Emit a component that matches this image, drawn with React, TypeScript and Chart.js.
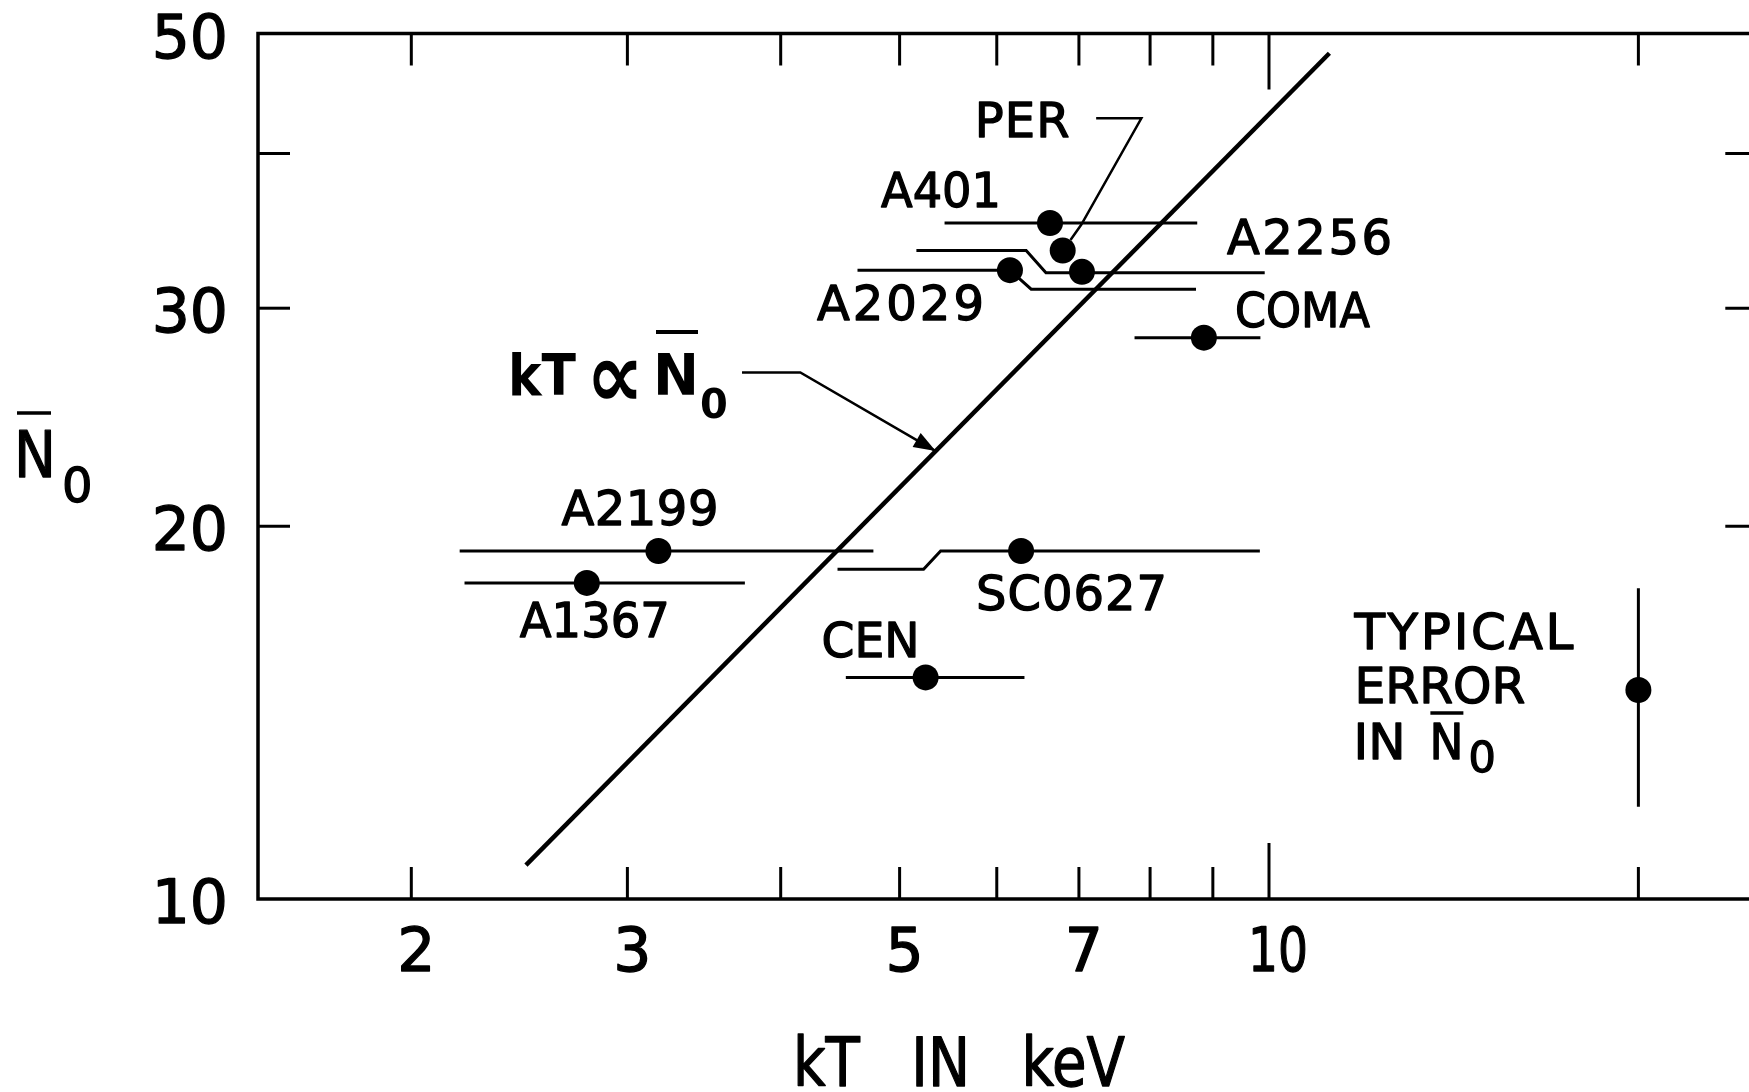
import React, { useEffect, useRef } from 'react';
import { Chart, registerables } from 'chart.js';

Chart.register(...registerables);

// ---------------- data ----------------
const clusterNames = ['A401', 'PER', 'A2256', 'A2029', 'COMA', 'A2199', 'A1367', 'SC0627', 'CEN'];
const clusterKT = [6.63, 6.79, 7.04, 6.15, 8.85, 3.18, 2.78, 6.28, 5.25];
const clusterN0 = [35.15, 33.4, 32.1, 32.2, 28.4, 19.1, 18.0, 19.1, 15.1];

// horizontal kT error bars, drawn (with offsets as in the original) as polylines [kT, N0]
const errA401 = [[5.44, 35.15], [8.74, 35.15]];
const errPerA2256 = [[5.16, 33.4], [6.34, 33.4], [6.58, 32.05], [9.92, 32.05]];
const errA2029 = [[4.62, 32.2], [6.15, 32.2], [6.4, 31.08], [8.72, 31.08]];
const errComa = [[7.77, 28.4], [9.84, 28.4]];
const errA2199 = [[2.19, 19.1], [4.76, 19.1]];
const errA1367 = [[2.21, 18.0], [3.74, 18.0]];
const errSC0627 = [[4.45, 18.46], [5.23, 18.46], [5.4, 19.1], [9.83, 19.1]];
const errCen = [[4.52, 15.1], [6.32, 15.1]];

// typical error in N0
const typicalKT = 20;
const typicalN0 = 14.75;
const typicalN0Range = [11.87, 17.82];

// kT proportional to N0 line
const fitKT = [2.48, 11.2];
const fitN0 = [10.65, 48.2];

// leader lines
const perLeader = [[7.23, 42.7], [7.87, 42.7], [7.03, 35.03], [6.89, 34.06]];
const fitLeader = [[3.72, 26.62], [4.15, 26.62], [5.35, 23.0]];

// axes
const xMin = 1.5;
const xMax = 25;
const yMin = 10;
const yMax = 50;
const xTickMarks = [2, 3, 4, 5, 6, 7, 8, 9, 10, 20];
const xTickLabels = [2, 3, 5, 7, 10];
const yTickMarks = [20, 30, 40];
const yTickLabels = [10, 20, 30, 50];
const xTitle = 'kT IN keV';

// ---------------- layout / style ----------------
const CANVAS_W = 1775;
const CANVAS_H = 1092;
const FONT = '"DejaVu Sans", "Liberation Sans", sans-serif';
const TEXT_STROKE = 1.3;

// label offsets (left, baseline) from each cluster dot, in px, plus ink width
const labelStyle: Record<string, { dx: number; dy: number; w: number }> = {
  PER: { dx: -88, dy: -113, w: 95 },
  A401: { dx: -169, dy: -16, w: 120 },
  A2256: { dx: 145, dy: -18, w: 165 },
  A2029: { dx: -193, dy: 50, w: 167 },
  COMA: { dx: 31, dy: -11, w: 135 },
  A2199: { dx: -97, dy: -26, w: 157 },
  A1367: { dx: -67, dy: 54, w: 150 },
  SC0627: { dx: -45, dy: 59, w: 191 },
  CEN: { dx: -104, dy: -20, w: 98 },
};

const toPts = (arr: number[][]) => arr.map(([x, y]) => ({ x, y }));

function paintText(ctx: CanvasRenderingContext2D, text: string, x: number, y: number, maxW?: number, stroke = TEXT_STROKE) {
  ctx.lineWidth = stroke;
  ctx.lineJoin = 'round';
  if (maxW) {
    ctx.fillText(text, x, y, maxW);
    if (stroke > 0) ctx.strokeText(text, x, y, maxW);
  } else {
    ctx.fillText(text, x, y);
    if (stroke > 0) ctx.strokeText(text, x, y);
  }
}

function drawFitted(
  ctx: CanvasRenderingContext2D,
  text: string,
  x: number,
  y: number,
  size: number,
  width: number,
  weight = 'normal',
) {
  ctx.font = `${weight} ${size}px ${FONT}`;
  (ctx as any).letterSpacing = '0px';
  ctx.textAlign = 'left';
  const stroke = weight === 'bold' ? 0 : TEXT_STROKE;
  const w0 = ctx.measureText(text).width;
  if (width && w0 < width && text.length > 1) {
    const ls = (width - w0) / (text.length - 1);
    (ctx as any).letterSpacing = `${ls}px`;
    paintText(ctx, text, x, y, undefined, stroke);
    (ctx as any).letterSpacing = '0px';
  } else if (width) {
    paintText(ctx, text, x, y, width, stroke);
  } else {
    paintText(ctx, text, x, y, undefined, stroke);
  }
}

function seg(ctx: CanvasRenderingContext2D, x1: number, y1: number, x2: number, y2: number) {
  ctx.beginPath();
  ctx.moveTo(x1, y1);
  ctx.lineTo(x2, y2);
  ctx.stroke();
}

function drawNBar0(
  ctx: CanvasRenderingContext2D,
  x: number,
  baseline: number,
  nSize: number,
  nWidth: number,
  subSize: number,
  subDx: number,
  subDrop: number,
  barY: number,
  barX1: number,
  barX2: number,
  weight = 'normal',
  barW = 3.5,
) {
  drawFitted(ctx, 'N', x, baseline, nSize, nWidth, weight);
  ctx.lineWidth = barW;
  ctx.lineCap = 'butt';
  seg(ctx, barX1, barY, barX2, barY);
  drawFitted(ctx, '0', x + subDx, baseline + subDrop, subSize, 0, weight);
}

const decorPlugin = {
  id: 'decor',
  beforeDatasetsDraw(chart: any) {
    const { ctx, chartArea: a, scales } = chart;
    const xs = scales.x;
    const ys = scales.y;
    ctx.save();
    ctx.strokeStyle = '#000';
    ctx.lineCap = 'butt';
    ctx.lineWidth = 3.5;
    ctx.strokeRect(a.left, a.top, a.right - a.left, a.bottom - a.top);
    ctx.lineWidth = 3;
    for (const v of xTickMarks) {
      const px = xs.getPixelForValue(v);
      const len = v === 10 ? 56 : 32;
      seg(ctx, px, a.bottom, px, a.bottom - len);
      seg(ctx, px, a.top, px, a.top + len);
    }
    for (const v of yTickMarks) {
      const py = ys.getPixelForValue(v);
      seg(ctx, a.left, py, a.left + 32, py);
      seg(ctx, a.right, py, a.right - 32, py);
    }
    ctx.restore();
  },
  afterDatasetsDraw(chart: any) {
    const { ctx, chartArea: a, scales } = chart;
    const xs = scales.x;
    const ys = scales.y;
    ctx.save();
    ctx.fillStyle = '#000';
    ctx.strokeStyle = '#000';
    ctx.textBaseline = 'alphabetic';

    // tick labels
    ctx.font = `60px ${FONT}`;
    ctx.textAlign = 'center';
    for (const v of xTickLabels) {
      const px = xs.getPixelForValue(v) + 5;
      if (v === 10) paintText(ctx, String(v), px + 4, a.bottom + 72, 60);
      else paintText(ctx, String(v), px, a.bottom + 72);
    }
    ctx.textAlign = 'right';
    for (const v of yTickLabels) {
      const py = ys.getPixelForValue(v);
      paintText(ctx, String(v), a.left - 30, py + 24);
    }

    // x axis title
    ctx.font = `67px ${FONT}`;
    ctx.textAlign = 'left';
    (ctx as any).wordSpacing = '40px';
    paintText(ctx, xTitle, 793, 1086, 332);
    (ctx as any).wordSpacing = '0px';

    // y axis title  N-bar 0
    drawNBar0(ctx, 14, 477, 64, 42, 48, 48, 25, 413, 17, 51);

    // cluster labels
    clusterNames.forEach((name, i) => {
      const st = labelStyle[name];
      const px = xs.getPixelForValue(clusterKT[i]);
      const py = ys.getPixelForValue(clusterN0[i]);
      drawFitted(ctx, name, px + st.dx, py + st.dy, 48, st.w);
    });

    // typical error text
    const tx = xs.getPixelForValue(typicalKT);
    const ty = ys.getPixelForValue(typicalN0);
    drawFitted(ctx, 'TYPICAL', tx - 284, ty - 41, 50, 219);
    drawFitted(ctx, 'ERROR', tx - 284, ty + 13, 50, 171);
    drawFitted(ctx, 'IN', tx - 285, ty + 69, 50, 0);
    drawNBar0(ctx, tx - 209, ty + 69, 50, 34, 43, 39, 13, ty + 23, tx - 208, tx - 175);

    // kT ∝ N0 annotation
    drawFitted(ctx, 'kT', 508, 395, 57, 68, 'bold');
    drawFitted(ctx, '\u221D', 586, 407, 92, 58, 'bold');
    drawNBar0(ctx, 653, 395, 57, 46, 40, 47, 23, 332, 656, 698, 'bold', 4);

    // arrowhead at end of fit leader
    const n = fitLeader.length;
    const x2 = xs.getPixelForValue(fitLeader[n - 1][0]);
    const y2 = ys.getPixelForValue(fitLeader[n - 1][1]);
    const x1 = xs.getPixelForValue(fitLeader[n - 2][0]);
    const y1 = ys.getPixelForValue(fitLeader[n - 2][1]);
    const ang = Math.atan2(y2 - y1, x2 - x1);
    const L = 22;
    const W = 8;
    ctx.beginPath();
    ctx.moveTo(x2, y2);
    ctx.lineTo(x2 - L * Math.cos(ang) + W * Math.sin(ang), y2 - L * Math.sin(ang) - W * Math.cos(ang));
    ctx.lineTo(x2 - L * Math.cos(ang) - W * Math.sin(ang), y2 - L * Math.sin(ang) + W * Math.cos(ang));
    ctx.closePath();
    ctx.fill();
    ctx.restore();
  },
};

export default function App() {
  const ref = useRef<HTMLCanvasElement | null>(null);

  useEffect(() => {
    if (!ref.current) return;
    document.body.style.margin = '0';
    const lineDs = (pts: number[][], width: number, order: number) => ({
      data: toPts(pts),
      showLine: true,
      borderColor: '#000',
      backgroundColor: '#000',
      borderWidth: width,
      pointRadius: 0,
      pointHoverRadius: 0,
      tension: 0,
      fill: false,
      order,
    });
    const errorBars = [errA401, errPerA2256, errA2029, errComa, errA2199, errA1367, errSC0627, errCen];
    const chart = new Chart(ref.current, {
      type: 'scatter',
      data: {
        datasets: [
          {
            data: [
              ...clusterKT.map((k, i) => ({ x: k, y: clusterN0[i] })),
              { x: typicalKT, y: typicalN0 },
            ],
            pointRadius: 13,
            pointHoverRadius: 13,
            pointBackgroundColor: '#000',
            pointBorderWidth: 0,
            backgroundColor: '#000',
            borderColor: '#000',
            showLine: false,
            order: 0,
          } as any,
          lineDs([[fitKT[0], fitN0[0]], [fitKT[1], fitN0[1]]], 4.5, 3),
          ...errorBars.map((e) => lineDs(e, 3, 2)),
          lineDs([[typicalKT, typicalN0Range[0]], [typicalKT, typicalN0Range[1]]], 3, 2),
          lineDs(perLeader, 2.5, 2),
          lineDs(fitLeader, 2.5, 2),
        ],
      },
      options: {
        animation: false,
        responsive: false,
        devicePixelRatio: 1,
        events: [],
        layout: {
          padding: { left: 258, top: 33.5, right: CANVAS_W - 1757.3, bottom: CANVAS_H - 899 },
        },
        plugins: { legend: { display: false }, tooltip: { enabled: false } },
        scales: {
          x: { type: 'logarithmic', min: xMin, max: xMax, display: false },
          y: { type: 'logarithmic', min: yMin, max: yMax, display: false },
        },
      },
      plugins: [decorPlugin],
    } as any);
    return () => chart.destroy();
  }, []);

  return (
    <div
      style={{
        position: 'fixed',
        left: 0,
        top: 0,
        width: 1749,
        height: 1092,
        overflow: 'hidden',
        background: '#fff',
      }}
    >
      <canvas ref={ref} width={CANVAS_W} height={CANVAS_H} style={{ width: CANVAS_W, height: CANVAS_H, display: 'block' }} />
    </div>
  );
}
